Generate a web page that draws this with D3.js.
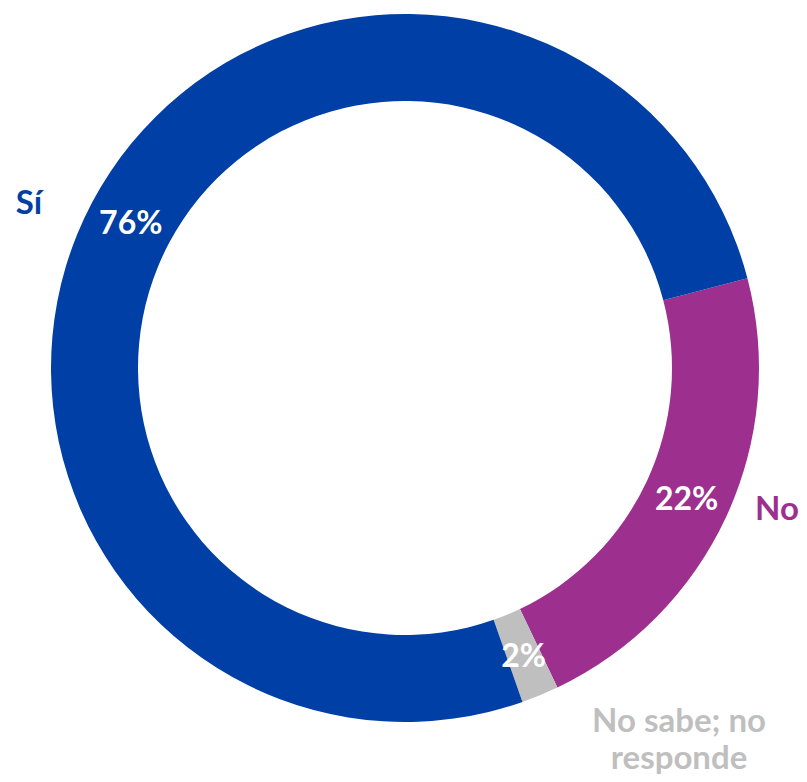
<!DOCTYPE html>
<html><head><meta charset="utf-8">
<script src="https://cdn.jsdelivr.net/npm/d3@7"></script>
<style>body{margin:0;background:#fff}svg{display:block}</style>
</head><body>
<svg id="c" width="807" height="782"></svg>
<script>
const categories = ["No", "No sabe; no responde", "Sí"];
const values = [22, 1.7, 76.3];
const valueLabels = ["22%", "2%", "76%"];
const outsideLabels = [["No"], ["No sabe; no", "responde"], ["Sí"]];
const colors = ["#9D2F8E", "#BFBFBF", "#003FA6"];

const W = 807, H = 782, cx = 405, cy = 368, R = 354, r = 267;
// layout offsets for outside labels (relative to mid-angle point at radius R+pad)
const outsideLayout = [
  {pad: 44, dx: 11, dy: -27},
  {pad: 60, dx: 116, dy: -12},
  {pad: 56, dx: -14, dy: 26}
];

const svg = d3.select("#c");
const g = svg.append("g").attr("transform", `translate(${cx},${cy})`);
const deg = Math.PI / 180;
const pie = d3.pie().sort(null).value(d => d).startAngle(75.3 * deg).endAngle(435.3 * deg);
const arcs = pie(values);
const arc = d3.arc().innerRadius(r).outerRadius(R);

g.selectAll("path.slice").data(arcs).join("path")
  .attr("class", "slice")
  .attr("d", arc)
  .attr("fill", (d, i) => colors[i]);

const font = "Lato, 'Open Sans', sans-serif";
const fs = 33;
g.selectAll("text.val").data(arcs).join("text")
  .attr("class", "val")
  .attr("transform", d => `translate(${arc.centroid(d)})`)
  .attr("text-anchor", "middle")
  .attr("dy", "0.36em")
  .attr("font-family", font).attr("font-weight", 700).attr("font-size", fs - 1)
  .attr("fill", "#fff")
  .text((d, i) => valueLabels[i]);

arcs.forEach((d, i) => {
  const a = (d.startAngle + d.endAngle) / 2;
  const L = outsideLayout[i];
  const rr = R + L.pad;
  const x = rr * Math.sin(a) + L.dx, y = -rr * Math.cos(a) + L.dy;
  const lines = outsideLabels[i];
  const t = g.append("text")
    .attr("x", x).attr("y", y)
    .attr("text-anchor", "middle")
    .attr("font-family", font).attr("font-weight", 700).attr("font-size", fs)
    .attr("fill", colors[i]);
  lines.forEach((ln, j) => {
    t.append("tspan").attr("x", x)
      .attr("dy", j === 0 ? (0.36 - (lines.length - 1) * 0.55) + "em" : "1.1em")
      .text(ln);
  });
});
</script>
</body></html>
